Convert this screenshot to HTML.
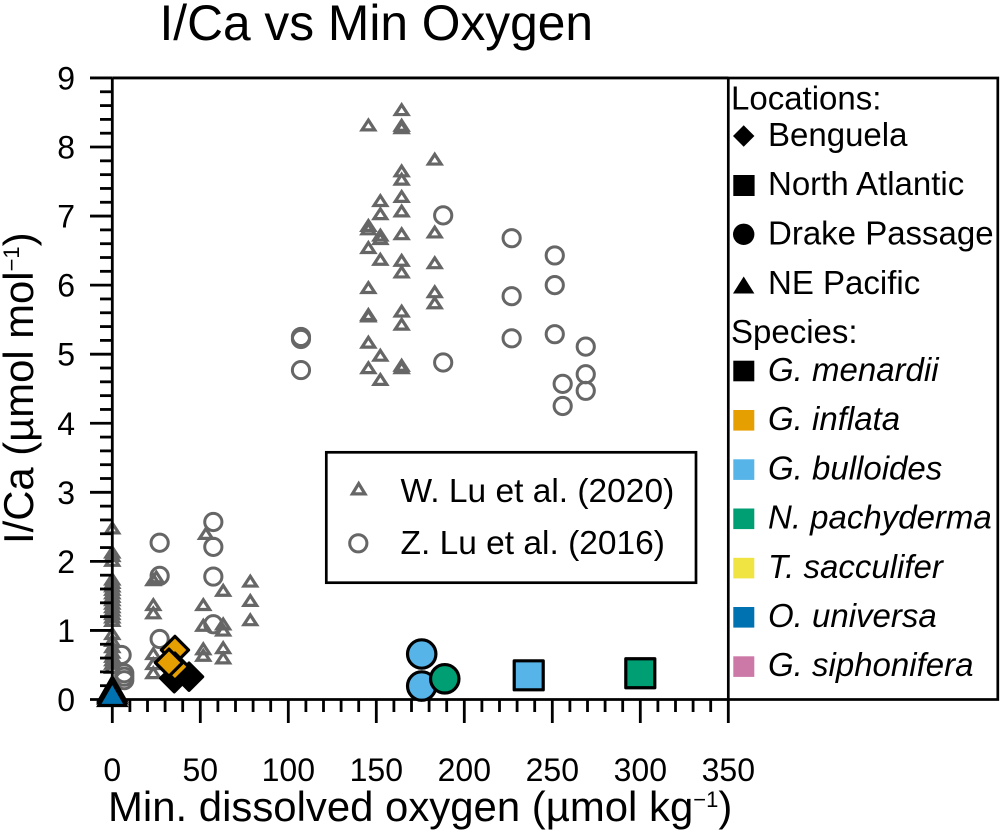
<!DOCTYPE html>
<html lang="en">
<head>
<meta charset="utf-8">
<title>I/Ca vs Min Oxygen</title>
<style>
html,body{margin:0;padding:0;background:#fff;}
svg{display:block;}
text{font-family:"Liberation Sans",Arial,sans-serif;fill:#000;}
</style>
</head>
<body>
<svg id="chart" xmlns="http://www.w3.org/2000/svg" width="1003" height="840" viewBox="0 0 1003 840">
  <rect x="0" y="0" width="1003" height="840" fill="#fff"/>
  <text x="159.5" y="40" font-size="49.7">I/Ca vs Min Oxygen</text>
  <g id="markers"></g>
  <g id="axes"></g>
  <text transform="translate(33,544) rotate(-90)" font-size="41.8">I/Ca (µmol mol<tspan font-size="22" dy="-14">−1</tspan><tspan dy="14">)</tspan></text>
  <text x="108" y="821" font-size="41.9">Min. dissolved oxygen (µmol kg<tspan font-size="22" dy="-14">−1</tspan><tspan dy="14">)</tspan></text>

  <g>
    <rect x="326.3" y="452.3" width="369.7" height="130.4" fill="#fff" stroke="#000" stroke-width="2.7"/>
    <path d="M358.7 483.6 L365 493.9 L352.4 493.9 Z" fill="none" stroke="#666" stroke-width="3.2"/>
    <circle cx="358.3" cy="543.3" r="8.6" fill="none" stroke="#666" stroke-width="3"/>
    <text x="400.5" y="502" font-size="33.5">W. Lu et al. (2020)</text>
    <text x="400.5" y="554" font-size="33.5">Z. Lu et al. (2016)</text>
  </g>

  <g>
    <rect x="728.3" y="78" width="269.5" height="621.5" fill="none" stroke="#000" stroke-width="2.7"/>
    <text x="731" y="109.5" font-size="33">Locations:</text>
    <path d="M743.7 125.3 L754.4 136 L743.7 146.7 L733 136 Z" fill="#000"/>
    <text x="768" y="146" font-size="33">Benguela</text>
    <rect x="733.3" y="175" width="21.3" height="21" fill="#000"/>
    <text x="768" y="195" font-size="33">North Atlantic</text>
    <circle cx="743.7" cy="234.3" r="10.7" fill="#000"/>
    <text x="768" y="244.5" font-size="33">Drake Passage</text>
    <path d="M743.7 276.5 L754.4 293.5 L733 293.5 Z" fill="#000"/>
    <text x="768" y="294" font-size="33">NE Pacific</text>

    <text x="731" y="343" font-size="33">Species:</text>
    <rect x="733.3" y="360.7" width="21" height="20.6" fill="#000"/>
    <text x="768" y="381" font-size="33" font-style="italic">G. menardii</text>
    <rect x="733.3" y="410" width="21" height="20.6" fill="#E69F00"/>
    <text x="768" y="430" font-size="33" font-style="italic">G. inflata</text>
    <rect x="733.3" y="459.3" width="21" height="20.6" fill="#56B4E9"/>
    <text x="768" y="479.5" font-size="33" font-style="italic">G. bulloides</text>
    <rect x="733.3" y="508.5" width="21" height="20.6" fill="#009E73"/>
    <text x="768" y="528.5" font-size="33" font-style="italic">N. pachyderma</text>
    <rect x="733.3" y="557.8" width="21" height="20.6" fill="#F0E442"/>
    <text x="768" y="578" font-size="33" font-style="italic">T. sacculifer</text>
    <rect x="733.3" y="607" width="21" height="20.6" fill="#0072B2"/>
    <text x="768" y="627" font-size="33" font-style="italic">O. universa</text>
    <rect x="733.3" y="656.3" width="21" height="20.6" fill="#CC79A7"/>
    <text x="768" y="676" font-size="33" font-style="italic">G. siphonifera</text>
  </g>
</svg>
<script>
const xTickLabels = [0, 50, 100, 150, 200, 250, 300, 350];
const yTickLabels = [0, 1, 2, 3, 4, 5, 6, 7, 8, 9];

const wLuOxygen = [
  0,0,0,0,0,0,0,0,0,0,0,0,0,0,0,0,0,0,0,0,0,0,0,0,0,
  23.3,23.3,23.3,23.3,23.3,23.3,25,
  51.7,51.7,51.7,51.7,53.2,
  63,63,63,63,63,
  78.4,78.4,78.4,
  145.5,145.5,145.5,145.5,145.5,145.5,145.5,145.5,145.5,
  152.3,152.3,152.3,152.3,152.3,152.3,152.3,
  164.4,164.4,164.4,164.4,164.4,164.4,164.4,164.4,164.4,164.4,164.4,164.4,164.4,164.4,
  183.2,183.2,183.2,183.2,183.2
];
const wLuICa = [
  2.46,2.11,2.06,1.99,1.72,1.67,1.62,1.57,1.52,1.47,1.42,1.37,1.32,1.27,1.22,1.17,1.12,0.93,0.83,0.74,0.66,0.6,0.55,0.5,0.44,
  1.71,1.35,1.23,0.64,0.495,0.364,1.75,
  1.35,1.05,0.71,0.615,2.38,
  1.557,1.07,0.98,0.726,0.577,
  1.69,1.41,1.13,
  8.295,6.84,6.79,6.52,5.94,5.55,5.53,5.15,4.78,
  7.2,7.01,6.7,6.65,6.35,4.96,4.61,
  8.517,8.29,8.256,7.63,7.51,7.26,7.05,6.72,6.335,6.166,5.6,5.41,4.815,4.78,
  7.8,6.745,6.3,5.88,5.72
];

const zLuOxygen = [
  5.3,6.8,6.8,6.8,
  26.9,26.9,26.9,
  57.4,57.4,57.4,57.4,
  107.2,107.2,107.2,
  188,188,
  226.9,226.9,226.9,
  251.4,251.4,251.4,
  255.9,255.9,
  269,269,269
];
const zLuICa = [
  0.644,0.38,0.33,0.28,
  2.27,1.79,0.876,
  2.57,2.21,1.78,1.09,
  5.25,5.22,4.77,
  7.01,4.88,
  6.68,5.84,5.23,
  6.43,6.0,5.29,
  4.57,4.25,
  5.11,4.71,4.47
];

const benguelaOxygen = [43.6, 35.2, 35.6, 35.6, 32.2];
const benguelaICa = [0.33, 0.307, 0.717, 0.475, 0.533];
const benguelaSpecies = ["menardii", "menardii", "inflata", "inflata", "inflata"];

const northAtlanticOxygen = [236.6, 300];
const northAtlanticICa = [0.35, 0.38];
const northAtlanticSpecies = ["bulloides", "pachyderma"];

const drakeOxygen = [175.8, 175.8, 188.9];
const drakeICa = [0.659, 0.195, 0.3];
const drakeSpecies = ["bulloides", "bulloides", "pachyderma"];

const nePacificOxygen = [0, 0, 0];
const nePacificICa = [0.09, 0.06, 0.023];
const nePacificSpecies = ["siphonifera", "sacculifer", "universa"];

const speciesFill = {
  menardii: "#000000",
  inflata: "#E69F00",
  bulloides: "#56B4E9",
  pachyderma: "#009E73",
  sacculifer: "#F0E442",
  universa: "#0072B2",
  siphonifera: "#CC79A7"
};

const NS = "http://www.w3.org/2000/svg";
const xAxis = v => 112.3 + v * 1.76;
const yAxis = v => 699.5 - v * 69.06;

const markersGroup = document.getElementById("markers");
const axesGroup = document.getElementById("axes");

function svgEl(tag, attrs, parent) {
  const el = document.createElementNS(NS, tag);
  for (const k in attrs) el.setAttribute(k, attrs[k]);
  parent.appendChild(el);
  return el;
}

function tickLine(x1, y1, x2, y2) {
  return svgEl("line", { x1: x1, y1: y1, x2: x2, y2: y2, stroke: "#000", "stroke-width": 2.8 }, axesGroup);
}

/* open reference markers */
wLuOxygen.forEach((v, i) => {
  const cx = xAxis(v), cy = yAxis(wLuICa[i]);
  const el = svgEl("path", {
    d: `M${cx} ${cy - 6.5} L${cx + 6.34} ${cy + 3.25} L${cx - 6.34} ${cy + 3.25} Z`,
    fill: "none", stroke: "#666", "stroke-width": 3.2
  }, markersGroup);
  
  
});
zLuOxygen.forEach((v, i) => {
  const el = svgEl("circle", {
    cx: xAxis(v), cy: yAxis(zLuICa[i]), r: 8.6,
    fill: "none", stroke: "#666", "stroke-width": 3
  }, markersGroup);
  
  
});

/* axes */
const xMinorStep = 10;
for (let v = xTickLabels[0]; v <= xTickLabels[xTickLabels.length - 1]; v += xMinorStep) {
  const x = xAxis(v);
  const major = v % 50 === 0;
  const t = tickLine(x, 699.5, x, major ? 723 : 712);
  
  
}
for (let k = 0; k <= 45; k++) {
  const v = k / 5;
  const y = yAxis(v);
  const major = k % 5 === 0;
  const t = tickLine(major ? 90 : 100, y, 112.3, y);
  
  
}
const leftSpine = tickLine(xAxis(0), yAxis(9), xAxis(0), yAxis(0));


const bottomSpine = tickLine(xAxis(0), yAxis(0), xAxis(350), yAxis(0));


const topSpine = tickLine(xAxis(0), yAxis(9), xAxis(350), yAxis(9));



xTickLabels.forEach(v => {
  const t = svgEl("text", { x: xAxis(v), y: 781, "font-size": 32, "text-anchor": "middle" }, axesGroup);
  t.textContent = v;
  
  
});
yTickLabels.forEach(v => {
  const t = svgEl("text", { x: 75, y: yAxis(v) + 11.5, "font-size": 32, "text-anchor": "end" }, axesGroup);
  t.textContent = v;
  
  
});

/* coloured study markers, drawn on top of the axes */
const topMarkers = document.createElementNS(NS, "g");


document.getElementById("chart").insertBefore(topMarkers, axesGroup.nextSibling);

const outline = { stroke: "#000", "stroke-width": 3.2, "stroke-linejoin": "round" };

benguelaOxygen.forEach((v, i) => {
  const cx = xAxis(v), cy = yAxis(benguelaICa[i]), r = 13.6;
  const el = svgEl("path", Object.assign({
    d: `M${cx} ${cy - r} L${cx + r} ${cy} L${cx} ${cy + r} L${cx - r} ${cy} Z`,
    fill: speciesFill[benguelaSpecies[i]]
  }, outline), topMarkers);
  
  
});
northAtlanticOxygen.forEach((v, i) => {
  const cx = xAxis(v), cy = yAxis(northAtlanticICa[i]), h = 14.5;
  const el = svgEl("rect", Object.assign({
    x: cx - h, y: cy - h, width: 2 * h, height: 2 * h,
    fill: speciesFill[northAtlanticSpecies[i]]
  }, outline), topMarkers);
  
  
});
drakeOxygen.forEach((v, i) => {
  const el = svgEl("circle", Object.assign({
    cx: xAxis(v), cy: yAxis(drakeICa[i]), r: 14.2,
    fill: speciesFill[drakeSpecies[i]]
  }, outline), topMarkers);
  
  
});
nePacificOxygen.forEach((v, i) => {
  const cx = xAxis(v), cy = yAxis(nePacificICa[i]);
  const el = svgEl("path", {
    d: `M${cx} ${cy - 16} L${cx + 13.5} ${cy + 7.6} L${cx - 13.5} ${cy + 7.6} Z`,
    fill: speciesFill[nePacificSpecies[i]],
    stroke: "#000", "stroke-width": 3.2, "stroke-linejoin": "miter"
  }, topMarkers);
  
  
});
</script>
</body>
</html>
